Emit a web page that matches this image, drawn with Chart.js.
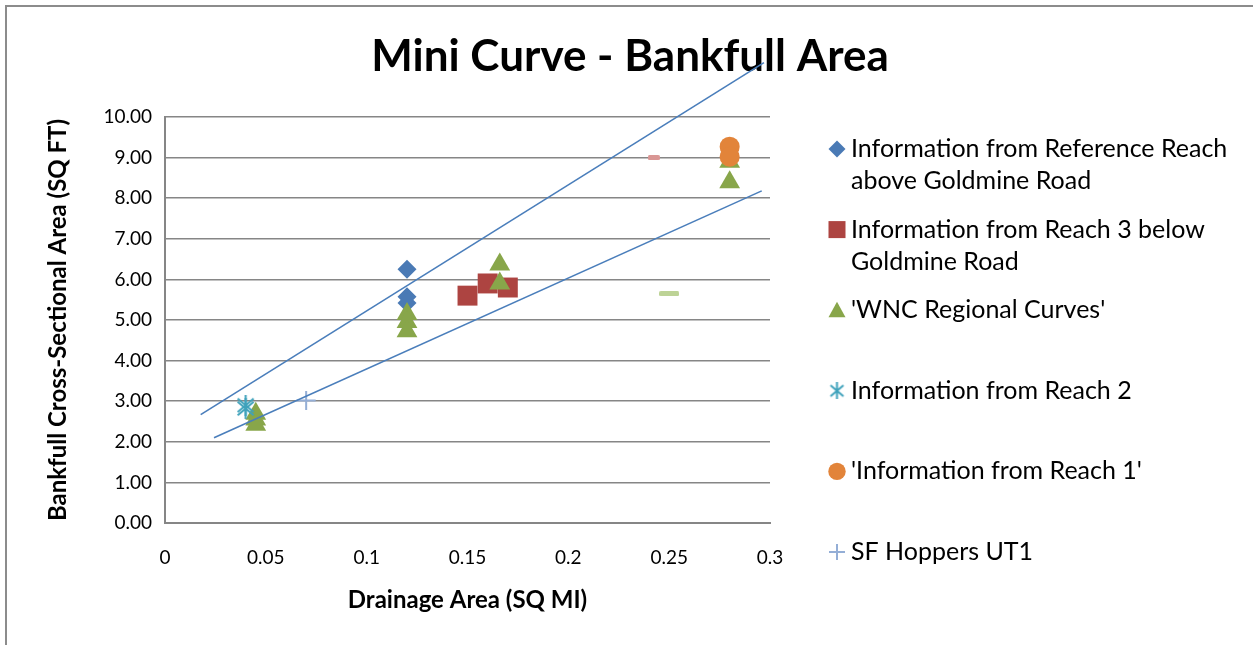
<!DOCTYPE html>
<html>
<head>
<meta charset="utf-8">
<title>Mini Curve - Bankfull Area</title>
<script src="https://cdn.jsdelivr.net/npm/chart.js@4.4.0/dist/chart.umd.min.js"></script>
<style>
  html, body { margin: 0; padding: 0; background: #fff; }
  canvas { display: block; }
</style>
</head>
<body>
<canvas id="bankfullChart" width="1253" height="645"></canvas>
<script>
// Drainage area (SQ MI) on x, bankfull cross-sectional area (SQ FT) on y
const refReachX = [0.12, 0.12, 0.12];
const refReachY = [6.25, 5.57, 5.42];

const reach3X = [0.15, 0.16, 0.17];
const reach3Y = [5.60, 5.90, 5.80];

const wncX = [0.045, 0.045, 0.045, 0.12, 0.12, 0.12, 0.166, 0.166, 0.28, 0.28];
const wncY = [2.69, 2.55, 2.42, 5.15, 4.95, 4.72, 6.37, 5.90, 8.90, 8.39];

const reach2X = [0.04, 0.04];
const reach2Y = [2.90, 2.82];

const reach1X = [0.28, 0.28];
const reach1Y = [9.27, 9.02];

const sfHoppersX = [0.07];
const sfHoppersY = [3.02];

// faint dash markers
const redDashX = [0.2424];
const redDashY = [9.0];
const greenDashX = [0.25];
const greenDashY = [5.65];

// trendlines (end points)
const upperTrendX = [0.0177, 0.297];
const upperTrendY = [2.67, 11.34];
const lowerTrendX = [0.0243, 0.2959];
const lowerTrendY = [2.10, 8.18];

const xTicks = [0, 0.05, 0.1, 0.15, 0.2, 0.25, 0.3];
const yTicks = [0, 1, 2, 3, 4, 5, 6, 7, 8, 9, 10];

const chartTitle = 'Mini Curve - Bankfull Area';
const seriesNames = [
  ['Information from Reference Reach', 'above Goldmine Road'],
  ['Information from Reach 3 below', 'Goldmine Road'],
  ["'WNC Regional Curves'"],
  ['Information from Reach 2'],
  ["'Information from Reach 1'"],
  ['SF Hoppers UT1']
];

const FONT = 'Lato, "Open Sans", "Liberation Sans", sans-serif';
const GRID = '#868686';

const colors = {
  diamond: '#4a7ab5',
  square: '#ad4441',
  triangle: '#88a64a',
  star: '#3fa2bb',
  circle: '#e2843a',
  plus: '#94aed6',
  trend: '#4a7ebb'
};

function pts(xs, ys) {
  return xs.map((x, i) => ({ x: x, y: ys[i] }));
}

// Excel style star: an X with a vertical bar through it
function makeStar(size, color, lw) {
  const c = document.createElement('canvas');
  c.width = size; c.height = size;
  const g = c.getContext('2d');
  g.strokeStyle = color;
  g.lineWidth = lw;
  g.beginPath();
  g.moveTo(size * 0.12, size * 0.18); g.lineTo(size * 0.88, size * 0.82);
  g.moveTo(size * 0.88, size * 0.18); g.lineTo(size * 0.12, size * 0.82);
  g.moveTo(size / 2, 0); g.lineTo(size / 2, size);
  g.stroke();
  return c;
}

function makeDash(w, h, color) {
  const c = document.createElement('canvas');
  c.width = w; c.height = h;
  const g = c.getContext('2d');
  g.fillStyle = color;
  g.beginPath();
  g.roundRect(0, 0, w, h, 1.5);
  g.fill();
  return c;
}

const starMark = makeStar(21, colors.star, 2);
const starLegend = makeStar(17, colors.star, 2);
const redDash = makeDash(12, 5, '#d99694');
const greenDash = makeDash(20, 5, '#bdd396');

// white page, outer frame and the centred title
const framePlugin = {
  id: 'frame',
  beforeDraw(chart) {
    const ctx = chart.ctx;
    ctx.save();
    ctx.fillStyle = '#fff';
    ctx.fillRect(0, 0, chart.width, chart.height);
    ctx.strokeStyle = '#8c8c8c';
    ctx.lineWidth = 2;
    ctx.beginPath();
    ctx.moveTo(6, chart.height + 10);
    ctx.lineTo(6, 6);
    ctx.lineTo(chart.width + 10, 6);
    ctx.stroke();

    ctx.fillStyle = '#000';
    ctx.font = 'bold 44px ' + FONT;
    ctx.textAlign = 'center';
    ctx.textBaseline = 'middle';
    ctx.fillText(chartTitle, 630, 57);
    ctx.restore();
  }
};

function drawLegendMarker(ctx, kind, x, y) {
  ctx.save();
  switch (kind) {
    case 'diamond':
      ctx.fillStyle = colors.diamond;
      ctx.beginPath();
      ctx.moveTo(x, y - 8.5); ctx.lineTo(x + 8.5, y);
      ctx.lineTo(x, y + 8.5); ctx.lineTo(x - 8.5, y);
      ctx.closePath(); ctx.fill();
      break;
    case 'square':
      ctx.fillStyle = colors.square;
      ctx.fillRect(x - 8.5, y - 8.5, 17, 17);
      break;
    case 'triangle':
      ctx.fillStyle = colors.triangle;
      ctx.beginPath();
      ctx.moveTo(x, y - 8.5); ctx.lineTo(x + 8.5, y + 7);
      ctx.lineTo(x - 8.5, y + 7);
      ctx.closePath(); ctx.fill();
      break;
    case 'star':
      ctx.drawImage(starLegend, x - 8.5, y - 8.5);
      break;
    case 'circle':
      ctx.fillStyle = colors.circle;
      ctx.beginPath(); ctx.arc(x, y, 8.7, 0, Math.PI * 2); ctx.fill();
      break;
    case 'plus':
      ctx.strokeStyle = colors.plus;
      ctx.lineWidth = 2;
      ctx.beginPath();
      ctx.moveTo(x - 8, y); ctx.lineTo(x + 8, y);
      ctx.moveTo(x, y - 8); ctx.lineTo(x, y + 8);
      ctx.stroke();
      break;
  }
  ctx.restore();
}

// legend on the right, one entry every ~80px
const legendPlugin = {
  id: 'sideLegend',
  afterDraw(chart) {
    const ctx = chart.ctx;
    const kinds = ['diamond', 'square', 'triangle', 'star', 'circle', 'plus'];
    ctx.save();
    ctx.font = '25px ' + FONT;
    ctx.fillStyle = '#000';
    ctx.textBaseline = 'middle';
    ctx.textAlign = 'left';
    seriesNames.forEach((lines, i) => {
      const y = 149 + i * 80.6;
      drawLegendMarker(ctx, kinds[i], 837, y);
      lines.forEach((t, j) => ctx.fillText(t, 851, y + j * 32.4));
    });
    ctx.restore();
  }
};

const ctx = document.getElementById('bankfullChart');

new Chart(ctx, {
  type: 'scatter',
  data: {
    datasets: [
      {
        label: 'upper trend',
        data: pts(upperTrendX, upperTrendY),
        showLine: true, pointRadius: 0,
        borderColor: colors.trend, borderWidth: 1.6,
        clip: false, order: 0
      },
      {
        label: 'lower trend',
        data: pts(lowerTrendX, lowerTrendY),
        showLine: true, pointRadius: 0,
        borderColor: colors.trend, borderWidth: 1.6,
        clip: false, order: 0
      },
      {
        label: seriesNames[5].join(' '),
        data: pts(sfHoppersX, sfHoppersY),
        pointStyle: 'cross', pointRadius: 9.5,
        borderColor: colors.plus, borderWidth: 2, order: 1
      },
      {
        label: seriesNames[4].join(' '),
        data: pts(reach1X, reach1Y),
        pointStyle: 'circle', pointRadius: 10,
        backgroundColor: colors.circle, borderWidth: 0, order: 2
      },
      {
        label: seriesNames[3].join(' '),
        data: pts(reach2X, reach2Y),
        pointStyle: starMark, order: 3
      },
      {
        label: seriesNames[2].join(' '),
        data: pts(wncX, wncY),
        pointStyle: 'triangle', pointRadius: 12,
        backgroundColor: colors.triangle, borderWidth: 0, order: 4
      },
      {
        label: seriesNames[1].join(' '),
        data: pts(reach3X, reach3Y),
        pointStyle: 'rect', pointRadius: 14.1,
        backgroundColor: colors.square, borderWidth: 0, order: 5
      },
      {
        label: seriesNames[0].join(' '),
        data: pts(refReachX, refReachY),
        pointStyle: 'rectRot', pointRadius: 9.5,
        backgroundColor: colors.diamond, borderWidth: 0, order: 6
      },
      {
        label: 'red dash',
        data: pts(redDashX, redDashY),
        pointStyle: redDash, order: 7
      },
      {
        label: 'green dash',
        data: pts(greenDashX, greenDashY),
        pointStyle: greenDash, order: 7
      }
    ]
  },
  options: {
    responsive: false,
    animation: false,
    devicePixelRatio: 1,
    layout: { padding: { left: 0, right: 483, top: 117, bottom: 0 } },
    plugins: {
      legend: { display: false },
      tooltip: { enabled: false },
      title: { display: false }
    },
    scales: {
      x: {
        type: 'linear',
        min: xTicks[0],
        max: xTicks[xTicks.length - 1],
        afterFit(scale) { scale.height = 122; },
        afterBuildTicks(scale) { scale.ticks = xTicks.map(v => ({ value: v })); },
        ticks: {
          padding: 23,
          color: '#000',
          font: { family: FONT, size: 19 },
          callback: v => String(Math.round(v * 100) / 100)
        },
        grid: { display: false, drawTicks: false },
        border: { display: true, color: GRID, width: 2 },
        title: {
          display: true,
          text: 'Drainage Area (SQ MI)',
          color: '#000',
          font: { family: FONT, size: 24, weight: 'bold' },
          padding: { top: 0, bottom: 30.6 }
        }
      },
      y: {
        type: 'linear',
        min: yTicks[0],
        max: yTicks[yTicks.length - 1],
        afterFit(scale) { scale.width = 165; },
        afterBuildTicks(scale) { scale.ticks = yTicks.map(v => ({ value: v })); },
        ticks: {
          padding: 13,
          color: '#000',
          font: { family: FONT, size: 19 },
          callback: v => Number(v).toFixed(2)
        },
        grid: { color: GRID, lineWidth: 1.5, drawTicks: false },
        border: { display: true, color: GRID, width: 2 },
        title: {
          display: true,
          text: 'Bankfull Cross-Sectional Area (SQ FT)',
          color: '#000',
          font: { family: FONT, size: 24, weight: 'bold' },
          padding: { top: 43.6, bottom: 0 }
        }
      }
    }
  },
  plugins: [framePlugin, legendPlugin]
});
</script>
</body>
</html>
